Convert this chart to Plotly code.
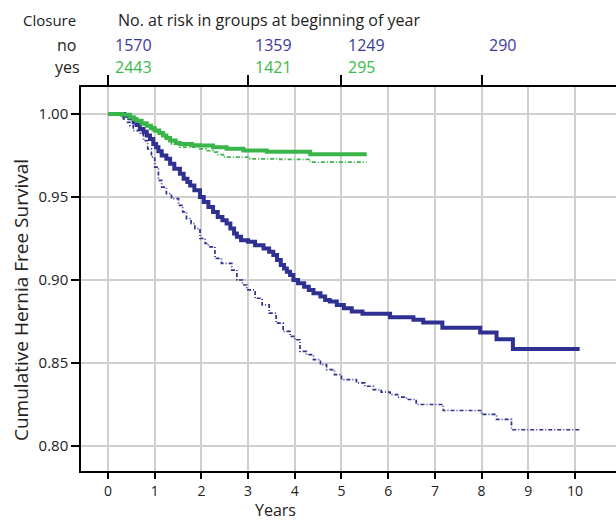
import plotly.graph_objects as go

# ---------------- data ----------------
years_ticks = [0, 1, 2, 3, 4, 5, 6, 7, 8, 9, 10]
y_ticks = [0.80, 0.85, 0.90, 0.95, 1.00]

risk_times = [0, 3, 5, 8]
risk_no = ["1570", "1359", "1249", "290"]
risk_yes = ["2443", "1421", "295"]

# No closure, solid curve (step starts)
no_solid_t = [0, 0.35, 0.47, 0.55, 0.61, 0.68, 0.76, 0.83, 0.90, 0.97, 1.03, 1.08, 1.15, 1.25, 1.33,
              1.42, 1.54, 1.62, 1.70, 1.76, 1.85, 1.97, 2.05, 2.15, 2.25, 2.35, 2.45, 2.54, 2.62, 2.70,
              2.76, 2.85, 3.00, 3.15, 3.33, 3.45, 3.54, 3.62, 3.70, 3.77, 3.83, 3.90, 3.97, 4.07, 4.20,
              4.30, 4.40, 4.55, 4.65, 4.75, 4.90, 5.05, 5.22, 5.45, 6.04, 6.54, 6.75, 7.16, 7.97, 8.32,
              8.67, 10.10]
no_solid_s = [1.000, 0.999, 0.9974, 0.995, 0.9934, 0.991, 0.9893, 0.987, 0.985, 0.982, 0.980, 0.9775,
              0.975, 0.973, 0.970, 0.967, 0.964, 0.961, 0.959, 0.957, 0.954, 0.950, 0.947, 0.944, 0.941,
              0.938, 0.936, 0.934, 0.931, 0.928, 0.926, 0.924, 0.923, 0.921, 0.919, 0.917, 0.915, 0.912,
              0.909, 0.907, 0.905, 0.903, 0.900, 0.898, 0.896, 0.894, 0.892, 0.890, 0.888, 0.887, 0.885,
              0.883, 0.881, 0.8796, 0.8776, 0.876, 0.8744, 0.8713, 0.8684, 0.8643, 0.8584, 0.8584]

# No closure, dashed curve
no_dash_t = [0, 0.25, 0.33, 0.42, 0.47, 0.54, 0.69, 0.76, 0.85, 0.93, 1.00, 1.08, 1.15, 1.25, 1.36,
             1.51, 1.60, 1.68, 1.78, 1.86, 1.97, 2.08, 2.15, 2.29, 2.43, 2.65, 2.76, 2.88, 2.97, 3.15,
             3.30, 3.45, 3.60, 3.75, 3.90, 4.00, 4.11, 4.25, 4.40, 4.55, 4.68, 4.85, 5.00, 5.32, 5.50,
             5.68, 5.85, 6.04, 6.20, 6.39, 6.60, 7.18, 8.00, 8.32, 8.64, 10.10]
no_dash_s = [1.000, 0.999, 0.997, 0.995, 0.993, 0.990, 0.988, 0.984, 0.979, 0.974, 0.968, 0.960, 0.956,
             0.952, 0.949, 0.945, 0.941, 0.937, 0.934, 0.931, 0.925, 0.922, 0.920, 0.913, 0.910, 0.906,
             0.900, 0.897, 0.894, 0.889, 0.885, 0.880, 0.874, 0.869, 0.866, 0.864, 0.857, 0.855, 0.852,
             0.849, 0.846, 0.843, 0.840, 0.838, 0.836, 0.834, 0.8325, 0.831, 0.8295, 0.828, 0.825,
             0.8214, 0.819, 0.816, 0.8098, 0.8098]

# Closure, solid curve
yes_solid_t = [0, 0.30, 0.47, 0.55, 0.61, 0.72, 0.83, 0.92, 1.00, 1.10, 1.18, 1.25, 1.33, 1.45, 1.54,
               1.80, 1.97, 2.25, 2.54, 2.90, 3.40, 4.33, 5.54]
yes_solid_s = [1.000, 0.9995, 0.998, 0.997, 0.996, 0.9945, 0.993, 0.9915, 0.990, 0.9885, 0.987, 0.9855,
               0.984, 0.9825, 0.982, 0.9812, 0.981, 0.980, 0.979, 0.978, 0.9773, 0.9757, 0.9757]

# Closure, dashed curve
yes_dash_t = [0, 0.26, 0.40, 0.54, 0.70, 0.83, 0.95, 1.04, 1.15, 1.25, 1.36, 1.54, 1.97, 2.10, 2.25,
              2.35, 2.47, 3.04, 3.68, 4.33, 5.54]
yes_dash_s = [1.000, 0.999, 0.997, 0.995, 0.9935, 0.992, 0.990, 0.989, 0.987, 0.985, 0.982, 0.980,
              0.979, 0.978, 0.977, 0.9755, 0.974, 0.973, 0.9727, 0.971, 0.971]

# ---------------- styling ----------------
BLUE = "#2e3192"
GREEN = "#39b54a"
BLUE_TXT = "#3b3b9e"
GREEN_TXT = "#3cb94a"
FONT = "Open Sans"
GRID = "#cfcfcf"

fig = go.Figure()

fig.add_trace(go.Scatter(x=no_dash_t, y=no_dash_s, mode="lines", line_shape="hv",
                         line=dict(color=BLUE, width=1.7, dash="4px,2px,1px,2px"),
                         name="no (dashed)", showlegend=False))
fig.add_trace(go.Scatter(x=yes_dash_t, y=yes_dash_s, mode="lines", line_shape="hv",
                         line=dict(color=GREEN, width=1.7, dash="4px,2px,1px,2px"),
                         name="yes (dashed)", showlegend=False))
fig.add_trace(go.Scatter(x=no_solid_t, y=no_solid_s, mode="lines", line_shape="hv",
                         line=dict(color=BLUE, width=4),
                         name="no", showlegend=False))
fig.add_trace(go.Scatter(x=yes_solid_t, y=yes_solid_s, mode="lines", line_shape="hv",
                         line=dict(color=GREEN, width=4),
                         name="yes", showlegend=False))
# invisible trace to carry the top axis
fig.add_trace(go.Scatter(x=[0], y=[1.0], xaxis="x2", mode="markers",
                         marker=dict(opacity=0), showlegend=False, hoverinfo="skip"))

x_range = [-0.578, 10.878]
BOTTOM_PX = 471
TOP_PX = 87
PLOT_H = BOTTOM_PX - TOP_PX

fig.update_layout(
    width=616, height=522,
    margin=dict(l=81, r=0, t=TOP_PX, b=522 - BOTTOM_PX),
    paper_bgcolor="white", plot_bgcolor="white",
    font=dict(family=FONT, color="#222222", size=14),
    xaxis=dict(range=x_range, tickvals=years_ticks, ticktext=[str(v) for v in years_ticks],
               showgrid=True, gridcolor=GRID, gridwidth=2,
               showline=True, linecolor="black", linewidth=1.5,
               ticks="outside", ticklen=6, tickwidth=1.5, tickcolor="black",
               tickfont=dict(size=14, family=FONT, color="#222222"),
               zeroline=False, fixedrange=True),
    xaxis2=dict(range=x_range, overlaying="x", side="top", anchor="y",
                tickvals=risk_times, showticklabels=False,
                showgrid=False, showline=True, linecolor="black", linewidth=1.5,
                ticks="outside", ticklen=10, tickwidth=1.5, tickcolor="black",
                zeroline=False),
    yaxis=dict(range=[0.78494, 1.01627], tickvals=y_ticks, ticktext=[f"{v:.2f}" for v in y_ticks],
               showgrid=True, gridcolor=GRID, gridwidth=2,
               showline=True, linecolor="black", linewidth=1.5,
               ticks="outside", ticklen=8, tickwidth=1.5, tickcolor="black",
               tickfont=dict(size=15, family=FONT, color="#222222"),
               zeroline=False),
)

def ypaper(py):
    return (BOTTOM_PX - py) / float(PLOT_H)

ann = []
ann.append(dict(text="Closure", xref="paper", yref="paper", x=(21 - 81) / 535.0, y=ypaper(20),
                xanchor="left", yanchor="middle", showarrow=False,
                font=dict(size=15, family=FONT, color="#222222")))
ann.append(dict(text="No. at risk in groups at beginning of year", xref="x", yref="paper",
                x=0, xshift=8, y=ypaper(20), xanchor="left", yanchor="middle", showarrow=False,
                font=dict(size=16, family=FONT, color="#222222")))
ann.append(dict(text="no", xref="paper", yref="paper", x=(66 - 81) / 535.0, y=ypaper(45),
                xanchor="center", yanchor="middle", showarrow=False,
                font=dict(size=16, family=FONT, color="#222222")))
ann.append(dict(text="yes", xref="paper", yref="paper", x=(67.5 - 81) / 535.0, y=ypaper(67),
                xanchor="center", yanchor="middle", showarrow=False,
                font=dict(size=16, family=FONT, color="#222222")))
for t, v in zip(risk_times, risk_no):
    ann.append(dict(text=v, xref="x", yref="paper", x=t, xshift=5, y=ypaper(45),
                    xanchor="left", yanchor="middle", showarrow=False,
                    font=dict(size=16, family=FONT, color=BLUE_TXT)))
for t, v in zip(risk_times, risk_yes):
    ann.append(dict(text=v, xref="x", yref="paper", x=t, xshift=5, y=ypaper(67),
                    xanchor="left", yanchor="middle", showarrow=False,
                    font=dict(size=16, family=FONT, color=GREEN_TXT)))
ann.append(dict(text="Years", xref="paper", yref="paper", x=(275 - 81) / 535.0, y=ypaper(522),
                xanchor="center", yanchor="bottom", showarrow=False, borderpad=0,
                font=dict(size=16, family=FONT, color="#222222")))
ann.append(dict(text="Cumulative Hernia Free Survival", xref="paper", yref="paper",
                x=(21 - 81) / 535.0, y=ypaper(300), textangle=-90,
                xanchor="center", yanchor="middle", showarrow=False,
                font=dict(size=19, family=FONT, color="#222222")))
fig.update_layout(annotations=ann)

fig.write_html("out.html", config={"displayModeBar": False},
               post_script="document.body.style.margin='0';document.body.style.padding='0';")
